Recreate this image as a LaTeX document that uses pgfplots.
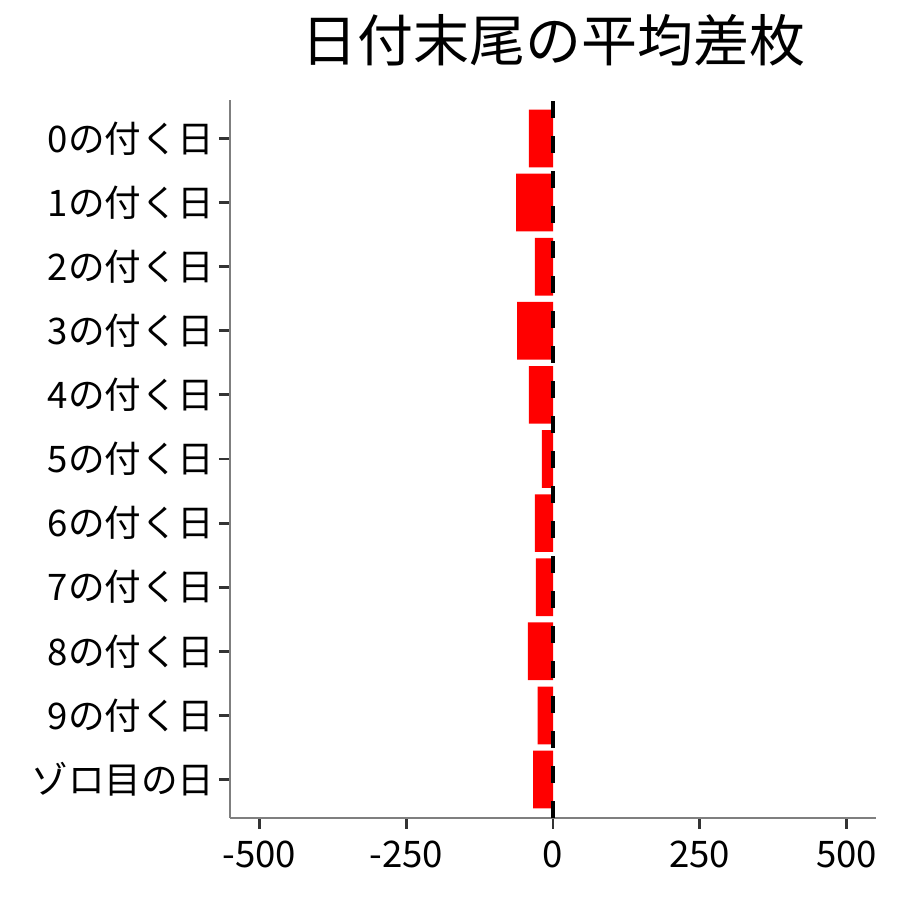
\documentclass[border=0pt]{standalone}
\usepackage{fontspec}
\setmainfont{Noto Sans CJK JP}
\usepackage{pgfplots}
\pgfplotsset{compat=1.18}
\definecolor{barred}{HTML}{FF0000}
\definecolor{axgray}{HTML}{7F7F7F}
\definecolor{tickgray}{HTML}{333333}

\begin{document}
\begin{tikzpicture}
\path[use as bounding box] (-115pt,-41pt) rectangle (335pt,409pt);
\begin{axis}[
  scale only axis,
  width=323pt, height=359pt,
  xmin=-550, xmax=550,
  ymin=-0.6, ymax=10.6,
  axis x line*=bottom,
  axis y line*=left,
  axis line style={-, axgray, line width=0.75pt},
  tick align=outside,
  major tick length=5.5pt,
  tick style={tickgray, line width=1.4pt},
  xtick={-500,-250,0,250,500},
  xticklabels={-500,-250,0,250,500},
  ytick={0,1,2,3,4,5,6,7,8,9,10},
  yticklabels={ゾロ目の日,9の付く日,8の付く日,7の付く日,6の付く日,5の付く日,4の付く日,3の付く日,2の付く日,1の付く日,0の付く日},
  ticklabel style={font=\fontsize{18.3}{21}\selectfont, black},
  yticklabel style={inner sep=2pt},
  xticklabel style={inner sep=2pt, yshift=-4pt},
  title={日付末尾の平均差枚},
  title style={font=\fontsize{28}{32}\selectfont, at={(0.5,1)}, anchor=center, yshift=24pt},
]
\addplot[xbar, bar width=0.9, fill=barred, draw=none] coordinates {
  (-34,0) (-26,1) (-43,2) (-29,3) (-31,4) (-19,5)
  (-41,6) (-61,7) (-31,8) (-63,9) (-41,10)
};
\addplot[black, line width=2pt, dash pattern=on 8.5pt off 9pt] coordinates {(0,-0.6) (0,10.6)};
\end{axis}
\end{tikzpicture}
\end{document}
